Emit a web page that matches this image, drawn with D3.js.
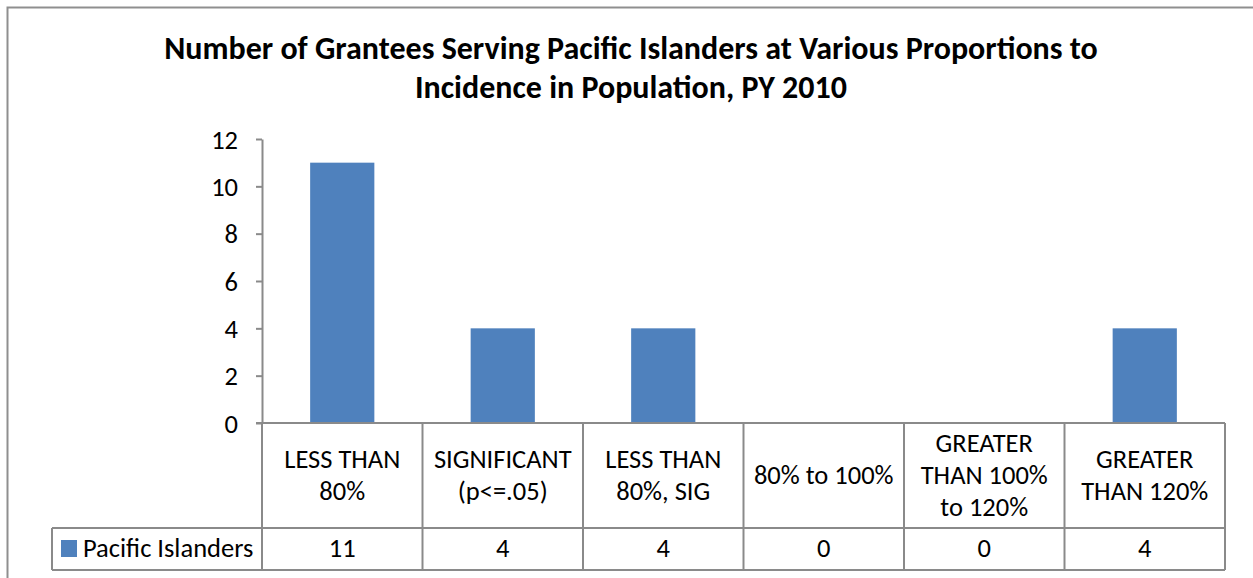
<!DOCTYPE html>
<html><head><meta charset="utf-8">
<script src="https://cdn.jsdelivr.net/npm/d3@7"></script>
<style>body{margin:0;background:#fff}svg{display:block}text{font-family:Carlito,Calibri,Lato,"Open Sans",sans-serif}</style>
</head><body>
<script>
const categories = [["LESS THAN","80%"],["SIGNIFICANT","(p<=.05)"],["LESS THAN","80%, SIG"],["80% to 100%"],["GREATER","THAN 100%","to 120%"],["GREATER","THAN 120%"]];
const seriesName = "Pacific Islanders";
const values = [11, 4, 4, 0, 0, 4];
const yTicks = [0, 2, 4, 6, 8, 10, 12];
const titleLines = ["Number of Grantees Serving Pacific Islanders at Various Proportions to","Incidence in Population, PY 2010"];

const W = 1253, H = 578;
const FS = 26.5;
const svg = d3.select("body").append("svg").attr("width", W).attr("height", H);
const gray = "#8a8a8a";

svg.append("rect").attr("x",7.5).attr("y",7.5).attr("width",1270).attr("height",600)
  .attr("fill","#fff").attr("stroke","#8f8f8f").attr("stroke-width",2);

svg.append("g").selectAll("text").data(titleLines).join("text")
  .attr("x",631).attr("y",(d,i)=>59+i*39).attr("text-anchor","middle")
  .attr("font-size",32).attr("font-weight","bold").attr("fill","#000").text(d=>d);

const idx = d3.range(categories.length);
const x = d3.scaleBand().domain(idx).range([262,1225]).paddingInner(0).paddingOuter(0);
const y = d3.scaleLinear().domain([0,12]).range([423,139]);

// bars
const bw = x.bandwidth()*0.4;
svg.append("g").selectAll("rect").data(values).join("rect")
  .attr("x",(d,i)=>x(i)+x.bandwidth()/2-bw/2).attr("width",bw)
  .attr("y",d=>y(d)).attr("height",d=>y(0)-y(d)).attr("fill","#4F81BD");

// y axis
const ax = svg.append("g").attr("transform","translate(262,0)")
  .call(d3.axisLeft(y).tickValues(yTicks).tickSize(6).tickSizeOuter(0).tickPadding(18));
ax.select(".domain").attr("stroke",gray).attr("stroke-width",2);
ax.selectAll(".tick line").attr("stroke",gray).attr("stroke-width",2);
ax.selectAll(".tick text").attr("font-size",FS).attr("fill","#000").attr("dy","0.34em")
  .attr("font-family",'Carlito,Calibri,Lato,"Open Sans",sans-serif');

// table lines
const t = svg.append("g").attr("stroke",gray).attr("stroke-width",2).attr("fill","none");
const bounds = idx.map(i=>x(i)).concat([x.range()[1]]);
t.selectAll("line.v").data(bounds).join("line").attr("class","v")
  .attr("x1",d=>d).attr("x2",d=>d).attr("y1",y(0)).attr("y2",570);
t.append("line").attr("x1",256).attr("x2",1225).attr("y1",y(0)).attr("y2",y(0));
t.append("line").attr("x1",52).attr("x2",1225).attr("y1",528).attr("y2",528);
t.append("line").attr("x1",52).attr("x2",1225).attr("y1",570).attr("y2",570);
t.append("line").attr("x1",52).attr("x2",52).attr("y1",528).attr("y2",570);

// category labels
const lab = svg.append("g").selectAll("text").data(categories).join("text")
  .attr("text-anchor","middle").attr("font-size",FS).attr("fill","#000");
lab.each(function(d,i){
  const n = d.length, lh = 32;
  const y0 = 484 - (n-1)*lh/2;
  d3.select(this).selectAll("tspan").data(d).join("tspan")
    .attr("x",x(i)+x.bandwidth()/2).attr("y",(s,j)=>y0+j*lh).text(s=>s);
});

// data row
svg.append("g").selectAll("text").data(values).join("text")
  .attr("x",(d,i)=>x(i)+x.bandwidth()/2).attr("y",557).attr("text-anchor","middle")
  .attr("font-size",FS).attr("fill","#000").text(d=>d);

// legend
svg.append("rect").attr("x",61).attr("y",540).attr("width",16).attr("height",17).attr("fill","#4F81BD");
svg.append("text").attr("x",83).attr("y",557).attr("font-size",FS).attr("fill","#000").text(seriesName);
</script>
</body></html>
